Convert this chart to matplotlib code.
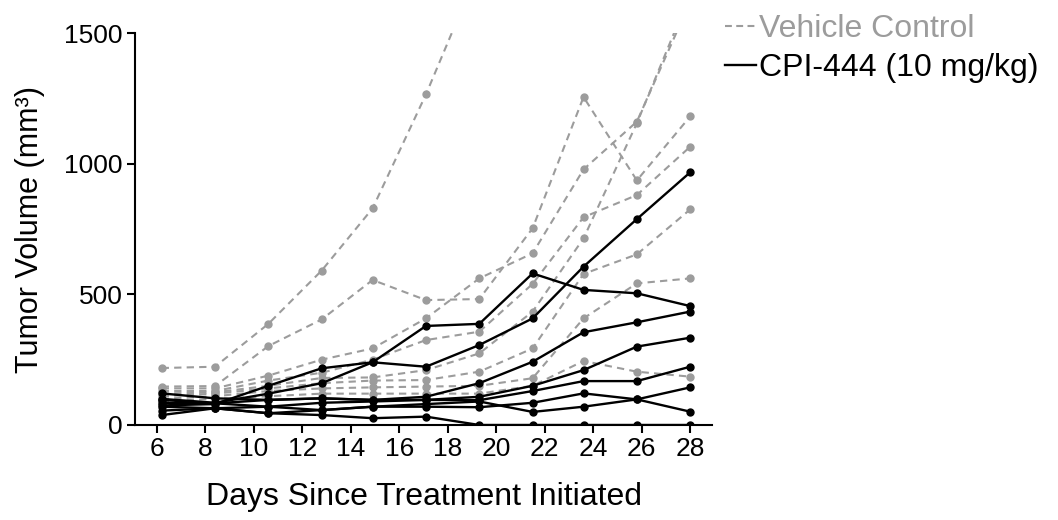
import matplotlib
matplotlib.use('Agg')
import matplotlib.pyplot as plt
from matplotlib.lines import Line2D
import numpy as np

plt.rcParams['font.family'] = ['Liberation Sans', 'DejaVu Sans']

# measurement days
days = [6.2, 8.4, 10.6, 12.8, 14.9, 17.1, 19.3, 21.5, 23.6, 25.8, 28.0]

# vehicle control animals (tumour volume, mm3); nan = no more measurements
vehicle = [
    [218, 223, 387, 591, 829, 1265, 1750, np.nan, np.nan, np.nan, np.nan],
    [147, 149, 302, 404, 555, 478, 482, 753, 1255, 936, 1181],
    [140, 140, 189, 250, 293, 408, 561, 657, 978, 1161, 1620],
    [130, 130, 170, 200, 250, 325, 357, 540, 795, 880, 1065],
    [120, 125, 150, 180, 182, 210, 274, 434, 714, 1155, 1650],
    [110, 120, 140, 160, 170, 172, 204, 293, 578, 653, 825],
    [100, 110, 130, 140, 144, 147, 150, 179, 408, 542, 561],
    [90, 100, 110, 120, 120, 120, 120, 150, 245, 204, 185],
]

# CPI-444 (10 mg/kg) animals
cpi444 = [
    [75, 80, 150, 217, 240, 223, 306, 408, 606, 788, 967],
    [100, 85, 120, 160, 240, 379, 387, 580, 517, 504, 455],
    [96, 83, 96, 102, 96, 108, 160, 242, 355, 393, 434],
    [121, 102, 96, 102, 96, 96, 108, 150, 210, 300, 334],
    [70, 64, 70, 85, 90, 96, 95, 130, 168, 168, 223],
    [85, 83, 70, 57, 70, 70, 68, 85, 121, 98, 51],
    [55, 64, 45, 57, 70, 80, 90, 50, 70, 98, 144],
    [38, 64, 45, 38, 26, 32, 0, 0, 0, 0, 0],
]

gray = '#9c9c9c'

fig = plt.figure(figsize=(10.58, 5.2), dpi=100)
ax = fig.add_axes([0.1276, 0.1827, 0.5454, 0.7538])

for v in vehicle:
    ax.plot(days, v, color=gray, lw=1.5, ls=(0, (3.5, 2.5)),
            marker='o', ms=5, mfc=gray, mec=gray)
for v in cpi444:
    ax.plot(days, v, color='black', lw=1.7, ls='-',
            marker='o', ms=5, mfc='black', mec='black')

ax.set_xlim(5.1, 28.9)
ax.set_ylim(0, 1500)
ax.set_xticks(range(6, 29, 2))
ax.set_yticks([0, 500, 1000, 1500])
for s in ['top', 'right']:
    ax.spines[s].set_visible(False)
for s in ['left', 'bottom']:
    ax.spines[s].set_linewidth(1.5)
ax.tick_params(direction='out', length=6, width=1.5, labelsize=19, pad=3)
ax.set_xlabel('Days Since Treatment Initiated', fontsize=23, labelpad=15)
ax.set_ylabel('Tumor Volume (mm³)', fontsize=22, labelpad=14)

handles = [Line2D([], [], color=gray, lw=1.5, ls=(0, (3.3, 2.1))),
           Line2D([], [], color='black', lw=1.7)]
leg = fig.legend(handles, ['Vehicle Control', 'CPI-444 (10 mg/kg)'],
                 loc='upper left', bbox_to_anchor=(0.672, 1.0), frameon=False,
                 fontsize=23, handlelength=0.95, handletextpad=0.1,
                 labelspacing=0.28, borderaxespad=0.05)
leg.get_texts()[0].set_color(gray)

fig.savefig('out.png', dpi=100)
